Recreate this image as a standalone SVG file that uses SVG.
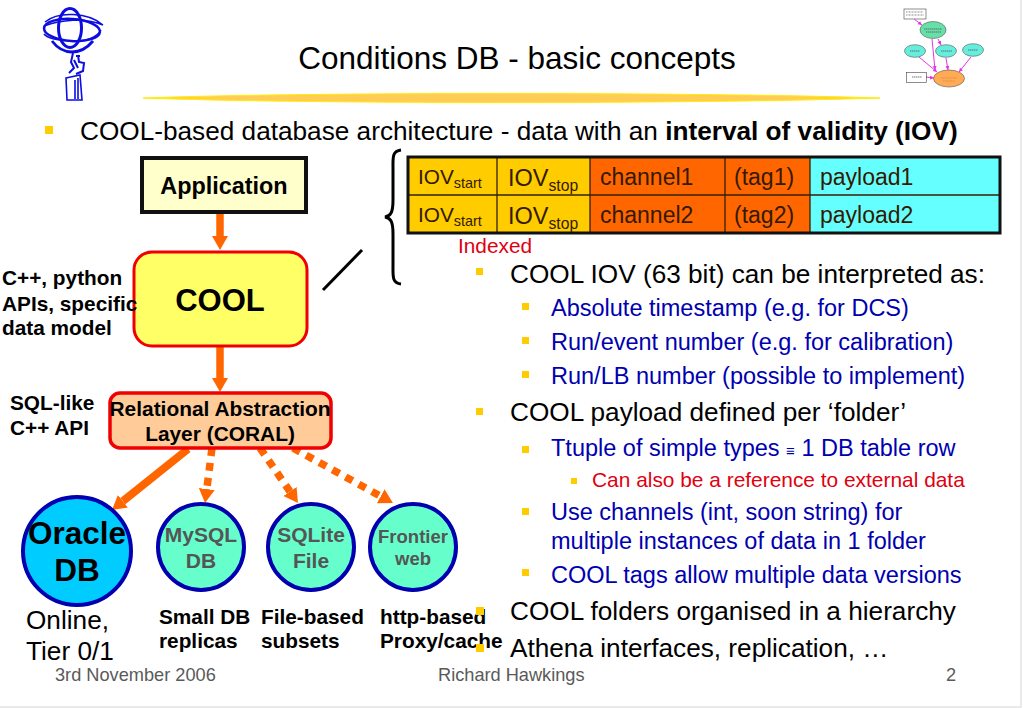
<svg xmlns="http://www.w3.org/2000/svg" width="1023" height="708" viewBox="0 0 1023 708">
<style>
text{font-family:"Liberation Sans",Arial,sans-serif;fill:#000}
.b{font-weight:bold}
.m{text-anchor:middle}
.g{fill:#555}
.l1{font-size:26.2px}
.l2{font-size:23.5px;fill:#0000b0}
.t{font-size:23px;fill:#331a00}
.lab{font-size:20.8px;font-weight:bold}
.foot{font-size:18.2px;fill:#5a5a5a}
.bul{fill:#ffcc00}
.ar{stroke:#ff6600;stroke-width:7.5;fill:none}
.tiny{fill:none;stroke:#444;stroke-width:.6}
.pk{stroke:#e633e6;stroke-width:1;fill:none;marker-end:url(#pa)}
.logo{fill:none;stroke:#0d0de0;stroke-width:2.2}
.dk{fill:#331a00}
</style>
<defs>
<marker id="h" markerUnits="userSpaceOnUse" markerWidth="16" markerHeight="18" refX="0" refY="8" orient="auto"><path d="M0,0L14,8L0,16z" fill="#ff6600"/></marker>
<marker id="pa" markerUnits="userSpaceOnUse" markerWidth="5" markerHeight="5" refX="4" refY="2" orient="auto"><path d="M0,0L4,2L0,4z" fill="#e633e6"/></marker>
</defs>
<rect width="1023" height="708" fill="#fff"/>
<path d="M1021,0V707H0" fill="none" stroke="#e4e4e4" stroke-width="1.5"/>

<g id="logo">
<ellipse class="logo" cx="70" cy="28" rx="11.500" ry="19.500" style="stroke-width:3"/>
<ellipse class="logo" cx="72" cy="30" rx="28" ry="11" transform="rotate(4 72 30)" style="stroke-width:2.500"/>
<path class="logo" style="stroke-width:1.500" d="M45,22C58,11 88,12 103,25M44,26C60,20 85,17 103,25M44,34C50,42 92,46 101,30"/>
<path class="logo" style="stroke-width:2.800" d="M52,41C58,49 65,52 72,52C80,52 88,47 93,41"/>
<path class="logo" style="stroke-width:2" d="M73,53L71,62L74,68L69,73M78,55L79,62L84,63L83,71L76,74M74,60L78,68M76,56H80"/>
<path class="logo" style="stroke-width:1.600" d="M66,78L80,75L82,100H67ZM78,78V99M75,80V99"/>
</g>

<text id="title" x="517" y="69" class="m" font-size="31.500">Conditions DB - basic concepts</text>
<path id="banner" d="M143,98C300,92 700,92 880,98C700,104 300,104 143,98Z" fill="#ffcc55" stroke="#ffee00" stroke-width="1"/>

<g id="thumbnail">
<rect class="tiny" x="904" y="9" width="22" height="10" fill="#fff"/>
<path class="tiny" d="M906,12H923M906,15H924" stroke-dasharray="1 .5"/>
<path class="pk" d="M914,19L922,25"/>
<path class="pk" d="M938,39L941,45"/>
<path class="pk" d="M932,39L935,70"/>
<path class="pk" d="M919,57L937,72"/>
<path class="pk" d="M946,58L948,70"/>
<path class="pk" d="M971,57L959,72"/>
<path class="pk" d="M926,77L934,78"/>
<ellipse cx="933" cy="30" rx="13" ry="8.500" fill="#66e0a8" stroke="#555" stroke-width=".6"/>
<ellipse cx="915" cy="51" rx="10.500" ry="6.300" fill="#66eedd" stroke="#555" stroke-width=".6"/>
<ellipse cx="946" cy="51" rx="10.500" ry="6.300" fill="#66eedd" stroke="#555" stroke-width=".6"/>
<ellipse cx="973" cy="50" rx="10.500" ry="6.300" fill="#66eedd" stroke="#555" stroke-width=".6"/>
<ellipse cx="949" cy="78.500" rx="15.500" ry="8.500" fill="#ffaa55" stroke="#555" stroke-width=".6"/>
<rect class="tiny" x="906.500" y="72.500" width="20" height="10"/>
<path d="M924,29H942M926,32H941M910,51H920M941,51H952M968,50H978M912,77H922" stroke="#555" stroke-width=".8" fill="none" stroke-dasharray="1.500 .5"/>
<path d="M941,78H957M943,81H955" stroke="#d84" stroke-width=".8" fill="none" stroke-dasharray="1.500 .5"/>
</g>

<rect class="bul" x="45" y="126" width="8" height="8"/>
<text x="80" y="140" class="l1">COOL-based database architecture - data with an <tspan class="b">interval of validity (IOV)</tspan></text>

<g id="table">
<rect x="408" y="157" width="89" height="76" fill="#ffcc00"/>
<rect x="497" y="157" width="93" height="76" fill="#ffcc00"/>
<rect x="590" y="157" width="220" height="76" fill="#ff6600"/>
<rect x="810" y="157" width="190" height="76" fill="#66ffff"/>
<path d="M408,195H1000M497,157V233M590,157V233M725,157V233M810,157V233" stroke="#332200" stroke-width="1.300" fill="none"/>
<rect x="408" y="157" width="592" height="76" fill="none" stroke="#111" stroke-width="3"/>
<text x="418" y="184" font-size="20.800" class="dk">IOV<tspan font-size="14.400" dy="4" class="dk">start</tspan></text>
<text x="508" y="186" font-size="23.500" class="dk">IOV<tspan font-size="15.700" dy="5" class="dk">stop</tspan></text>
<text x="600" y="185" class="t">channel1</text><text x="734" y="185" class="t">(tag1)</text><text x="820" y="185" class="t">payload1</text>
<text x="418" y="222" font-size="20.800" class="dk">IOV<tspan font-size="14.400" dy="4" class="dk">start</tspan></text>
<text x="508" y="224" font-size="23.500" class="dk">IOV<tspan font-size="15.700" dy="5" class="dk">stop</tspan></text>
<text x="600" y="223" class="t">channel2</text><text x="734" y="223" class="t">(tag2)</text><text x="820" y="223" class="t">payload2</text>
</g>
<text x="458" y="253" font-size="20.800" style="fill:#e00010">Indexed</text>

<path id="brace" d="M401,150C392,151 393,158 393,168V200C393,212 391,216 385,217C391,218 393,222 393,234V266C393,276 392,283 401,284" fill="none" stroke="#000" stroke-width="3"/>
<path id="pointer" d="M323,290L362,250" stroke="#000" stroke-width="3" fill="none"/>

<g id="connectors">
<path class="ar" d="M220,213V236" marker-end="url(#h)"/>
<path class="ar" d="M220,346V378" marker-end="url(#h)"/>
<path class="ar" d="M188,449L122.900,501.200" marker-end="url(#h)" style="stroke-width:8"/>
<path class="ar" d="M212,448L206.800,489.100" stroke-dasharray="8 7" marker-end="url(#h)"/>
<path class="ar" d="M260,448L290,491.500" stroke-dasharray="8 7" marker-end="url(#h)"/>
<path class="ar" d="M293,448L380.700,496.300" stroke-dasharray="8 7" marker-end="url(#h)"/>
</g>

<g id="application">
<rect x="142" y="158" width="164" height="54" fill="#ffffcc" stroke="#111" stroke-width="4"/>
<text x="224" y="194" class="b m" font-size="23.400">Application</text>
</g>
<g id="cool">
<rect x="134" y="252" width="173" height="94" rx="18" fill="#ffff66" stroke="#f00000" stroke-width="3"/>
<text x="220" y="311" class="b m" font-size="31">COOL</text>
</g>
<g id="coral">
<rect x="110" y="393" width="221" height="55" rx="10" fill="#ffcc99" stroke="#f00000" stroke-width="3.500"/>
<text x="220" y="416" class="b m" font-size="20.900">Relational Abstraction</text>
<text x="220" y="441" class="b m" font-size="20.900">Layer (CORAL)</text>
</g>
<g id="oracle">
<circle cx="77" cy="551" r="54" fill="#00ccff" stroke="#0000b0" stroke-width="4"/>
<text x="77" y="544" class="b m" font-size="31.500">Oracle</text>
<text x="77" y="581" class="b m" font-size="31.500">DB</text>
</g>
<g id="mysql">
<circle cx="201" cy="547" r="43" fill="#66ffcc" stroke="#0000b0" stroke-width="4"/>
<text x="201" y="542" class="b m g" font-size="21">MySQL</text>
<text x="201" y="568" class="b m g" font-size="21">DB</text>
</g>
<g id="sqlite">
<circle cx="311" cy="547" r="43" fill="#66ffcc" stroke="#0000b0" stroke-width="4"/>
<text x="311" y="542" class="b m g" font-size="21">SQLite</text>
<text x="311" y="568" class="b m g" font-size="21">File</text>
</g>
<g id="frontier">
<circle cx="413" cy="547" r="43" fill="#66ffcc" stroke="#0000b0" stroke-width="4"/>
<text x="413" y="543" class="b m g" font-size="18.500">Frontier</text>
<text x="413" y="565" class="b m g" font-size="18.500">web</text>
</g>

<g id="labels">
<text x="2" y="285" class="lab">C++, python</text>
<text x="2" y="311" class="lab">APIs, specific</text>
<text x="2" y="335" class="lab">data model</text>
<text x="10" y="410" class="lab">SQL-like</text>
<text x="10" y="435" class="lab">C++ API</text>
<text x="26" y="629" font-size="26.200">Online,</text>
<text x="26" y="660" font-size="26.200">Tier 0/1</text>
<text x="159" y="624" class="lab">Small DB</text>
<text x="159" y="648" class="lab">replicas</text>
<text x="261" y="624" class="lab">File-based</text>
<text x="261" y="648" class="lab">subsets</text>
<text x="380" y="624" class="lab">http-based</text>
<text x="380" y="648" class="lab">Proxy/cache</text>
</g>

<g id="bullets">
<rect class="bul" x="476" y="268" width="7" height="7"/>
<rect class="bul" x="476" y="408" width="7" height="7"/>
<rect class="bul" x="476" y="607" width="8" height="8"/>
<rect class="bul" x="476" y="644" width="8" height="8"/>
<rect class="bul" x="522" y="303" width="7" height="7"/>
<rect class="bul" x="522" y="337" width="7" height="7"/>
<rect class="bul" x="522" y="371" width="7" height="7"/>
<rect class="bul" x="522" y="446" width="7" height="7"/>
<rect class="bul" x="522" y="508" width="7" height="7"/>
<rect class="bul" x="522" y="569" width="7" height="7"/>
<rect class="bul" x="571" y="478" width="6" height="6"/>
</g>

<g id="body">
<text x="510" y="283" class="l1">COOL IOV (63 bit) can be interpreted as:</text>
<text x="551" y="316" class="l2">Absolute timestamp (e.g. for DCS)</text>
<text x="551" y="350" class="l2">Run/event number (e.g. for calibration)</text>
<text x="551" y="384" class="l2">Run/LB number (possible to implement)</text>
<text x="510" y="421" class="l1">COOL payload defined per ‘folder’</text>
<text x="551" y="456" class="l2">Ttuple of simple types <tspan font-size="15" style="fill:#0000b0">≡</tspan> 1 DB table row</text>
<text x="592" y="487" font-size="20.900" style="fill:#e00010">Can also be a reference to external data</text>
<text x="551" y="520" class="l2">Use channels (int, soon string) for</text>
<text x="551" y="549" class="l2">multiple instances of data in 1 folder</text>
<text x="551" y="583" class="l2">COOL tags allow multiple data versions</text>
<text x="510" y="620" class="l1">COOL folders organised in a hierarchy</text>
<text x="510" y="657" class="l1">Athena interfaces, replication, …</text>
</g>

<g id="footer">
<text x="55" y="681" class="foot">3rd November 2006</text>
<text x="438" y="681" class="foot">Richard Hawkings</text>
<text x="946" y="681" class="foot">2</text>
</g>
</svg>
